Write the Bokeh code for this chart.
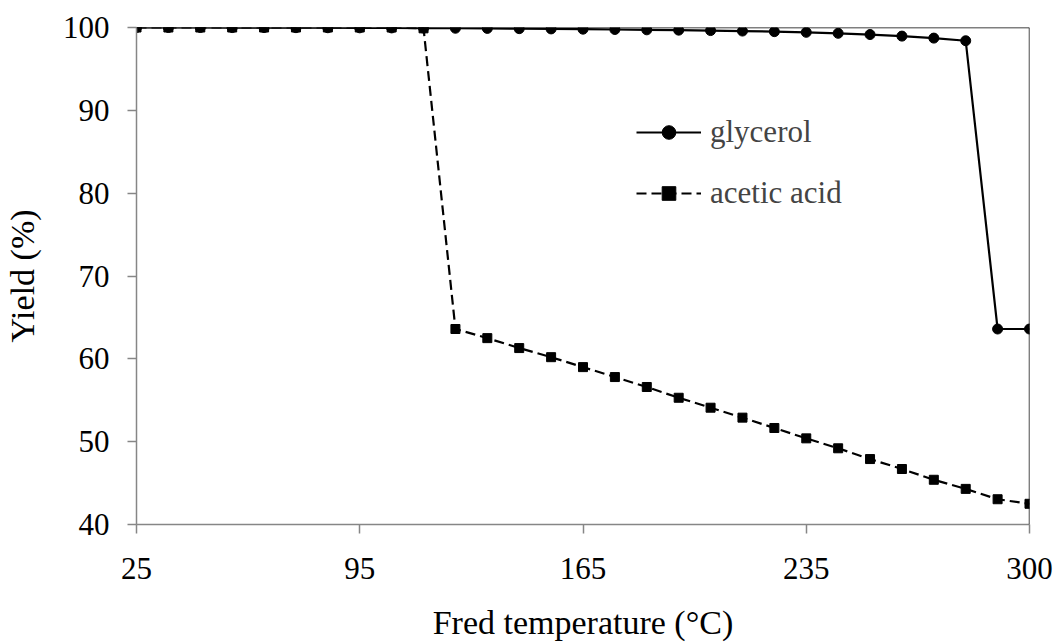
from bokeh.plotting import figure
from bokeh.models import Range1d, FixedTicker, Span, Legend, LegendItem
from bokeh.embed import file_html
from bokeh.resources import INLINE

temps = [25, 35, 45, 55, 65, 75, 85, 95, 105, 115, 125, 135, 145, 155, 165,
         175, 185, 195, 205, 215, 225, 235, 245, 255, 265, 275, 285, 295, 300]
glycerol = [100.0, 100.0, 100.0, 99.99, 99.99, 99.98, 99.97, 99.96, 99.95, 99.93,
            99.91, 99.89, 99.86, 99.83, 99.8, 99.76, 99.72, 99.68, 99.63, 99.57,
            99.5, 99.42, 99.3, 99.15, 98.96, 98.72, 98.4, 63.6, 63.6]
acetic = [100.0, 100.0, 100.0, 100.0, 100.0, 100.0, 100.0, 100.0, 100.0, 99.9,
          63.6, 62.5, 61.3, 60.2, 59.0, 57.8, 56.6, 55.3, 54.1, 52.9,
          51.65, 50.4, 49.2, 47.9, 46.7, 45.4, 44.3, 43.05, 42.5]
x_tick_labels = ["25", "95", "165", "235", "300"]
x_tick_temps = [25, 95, 165, 235, 300]
y_ticks = [40, 50, 60, 70, 80, 90, 100]

FONT = "Liberation Serif"
FS = "31px"
FS_TITLE = "34px"
GRAY = "#868686"

idx = list(range(len(temps)))
tick_pos = [temps.index(t) for t in x_tick_temps]

p = figure(width=1058, height=644, output_backend="svg", toolbar_location=None,
           x_range=Range1d(0, len(temps) - 1), y_range=Range1d(40, 100),
           min_border_left=136, min_border_right=29, min_border_top=27,
           min_border_bottom=120)
p.outline_line_color = None
p.background_fill_color = "white"
p.border_fill_color = "white"
p.xgrid.visible = False
p.ygrid.visible = False

# top and right border of the plot area
p.add_layout(Span(location=100, dimension="width", line_color="black", line_width=1.4))
p.add_layout(Span(location=len(temps) - 1, dimension="height", line_color="black", line_width=1.4))

r_g_line = p.line(idx, glycerol, line_color="black", line_width=2.2)
r_g_pts = p.scatter(idx, glycerol, marker="circle", size=10, fill_color="black", line_color="black")
r_a_line = p.line(idx, acetic, line_color="black", line_width=2.2, line_dash="10 5")
r_a_pts = p.scatter(idx, acetic, marker="square", size=9, fill_color="black", line_color="black")

for ax in (p.xaxis[0], p.yaxis[0]):
    ax.axis_line_color = GRAY
    ax.axis_line_width = 1.5
    ax.major_tick_line_color = GRAY
    ax.major_tick_line_width = 1.5
    ax.major_tick_out = 9
    ax.major_tick_in = 0
    ax.minor_tick_line_color = None
    ax.major_label_text_font = FONT
    ax.major_label_text_font_size = FS
    ax.major_label_text_color = "black"
    ax.axis_label_text_font = FONT
    ax.axis_label_text_font_size = FS_TITLE
    ax.axis_label_text_font_style = "normal"
    ax.axis_label_text_color = "black"

p.xaxis.ticker = FixedTicker(ticks=tick_pos)
p.xaxis.major_label_overrides = {pos: lab for pos, lab in zip(tick_pos, x_tick_labels)}
p.xaxis.major_label_standoff = 24
p.xaxis.axis_label = "Fred temperature (°C)"
p.xaxis.axis_label_standoff = 22

p.yaxis.ticker = FixedTicker(ticks=y_ticks)
p.yaxis.major_label_standoff = 18
p.yaxis.axis_label = "Yield (%)"
p.yaxis.axis_label_standoff = 19

legend = Legend(items=[
    LegendItem(label="glycerol", renderers=[r_g_line, r_g_pts]),
    LegendItem(label="acetic acid", renderers=[r_a_line, r_a_pts]),
], location=(500, 313))
legend.label_text_font = FONT
legend.label_text_font_size = FS
legend.glyph_width = 65
legend.glyph_height = 34
legend.label_height = 34
legend.spacing = 25
legend.padding = 0
legend.margin = 0
legend.label_standoff = 9
legend.border_line_color = None
legend.background_fill_alpha = 0
p.add_layout(legend)

open("out.html", "w").write(file_html(p, INLINE))
